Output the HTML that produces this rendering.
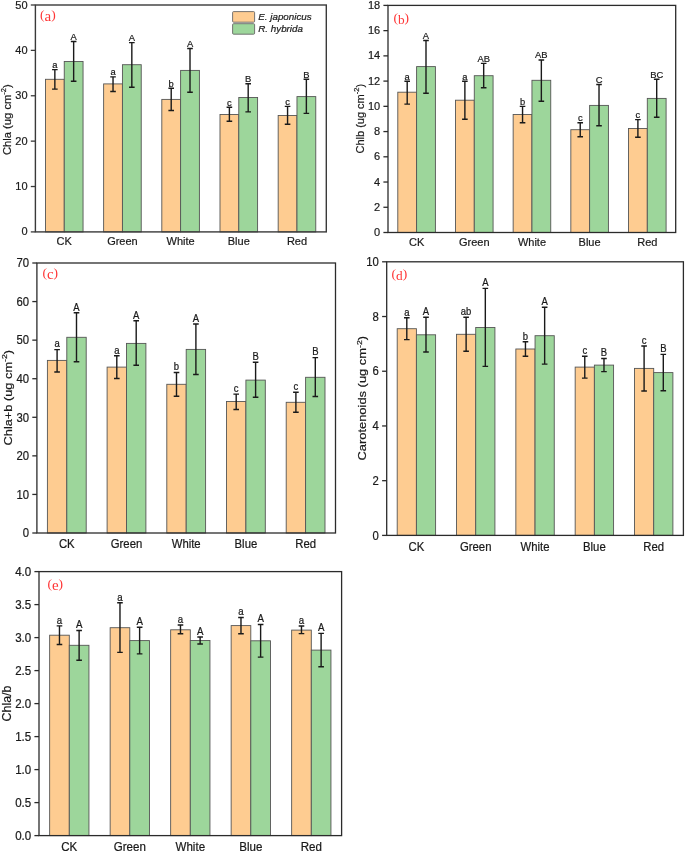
<!DOCTYPE html>
<html><head><meta charset="utf-8"><style>
html,body{margin:0;padding:0;background:#fff;}
svg{display:block;will-change:transform;}
text{font-family:"Liberation Sans",sans-serif;fill:#1a1a1a;stroke:#1a1a1a;stroke-width:0.2px;}
text.pl{font-family:"Liberation Serif",serif;fill:#FF3535;stroke:none;}
</style></head><body>
<svg width="685" height="853" viewBox="0 0 685 853">
<rect width="685" height="853" fill="#fff"/>
<rect x="45.45" y="79.3" width="18.8" height="152.6" fill="#FECC91" stroke="#555555" stroke-width="0.9"/>
<rect x="64.25" y="61.5" width="18.8" height="170.4" fill="#9DD69B" stroke="#555555" stroke-width="0.9"/>
<rect x="103.63" y="83.9" width="18.8" height="148" fill="#FECC91" stroke="#555555" stroke-width="0.9"/>
<rect x="122.43" y="64.7" width="18.8" height="167.2" fill="#9DD69B" stroke="#555555" stroke-width="0.9"/>
<rect x="161.81" y="99.4" width="18.8" height="132.5" fill="#FECC91" stroke="#555555" stroke-width="0.9"/>
<rect x="180.61" y="70.4" width="18.8" height="161.5" fill="#9DD69B" stroke="#555555" stroke-width="0.9"/>
<rect x="219.99" y="114.5" width="18.8" height="117.4" fill="#FECC91" stroke="#555555" stroke-width="0.9"/>
<rect x="238.79" y="97.5" width="18.8" height="134.4" fill="#9DD69B" stroke="#555555" stroke-width="0.9"/>
<rect x="278.17" y="115.5" width="18.8" height="116.4" fill="#FECC91" stroke="#555555" stroke-width="0.9"/>
<rect x="296.97" y="96.6" width="18.8" height="135.3" fill="#9DD69B" stroke="#555555" stroke-width="0.9"/>
<path d="M54.85 69.6V89.1M52.05 69.6H57.65M52.05 89.1H57.65" stroke="#1a1a1a" stroke-width="1.4" fill="none"/>
<text x="54.85" y="67.9" font-size="9.4" text-anchor="middle">a</text>
<path d="M73.65 41.5V81.3M70.85 41.5H76.45M70.85 81.3H76.45" stroke="#1a1a1a" stroke-width="1.4" fill="none"/>
<text x="73.65" y="39.8" font-size="9.4" text-anchor="middle">A</text>
<path d="M113.03 76.9V91.5M110.23 76.9H115.83M110.23 91.5H115.83" stroke="#1a1a1a" stroke-width="1.4" fill="none"/>
<text x="113.03" y="75.2" font-size="9.4" text-anchor="middle">a</text>
<path d="M131.83 42.6V87.2M129.03 42.6H134.63M129.03 87.2H134.63" stroke="#1a1a1a" stroke-width="1.4" fill="none"/>
<text x="131.83" y="40.9" font-size="9.4" text-anchor="middle">A</text>
<path d="M171.21 88.3V110.5M168.41 88.3H174.01M168.41 110.5H174.01" stroke="#1a1a1a" stroke-width="1.4" fill="none"/>
<text x="171.21" y="86.6" font-size="9.4" text-anchor="middle">b</text>
<path d="M190.01 48.5V92.3M187.21 48.5H192.81M187.21 92.3H192.81" stroke="#1a1a1a" stroke-width="1.4" fill="none"/>
<text x="190.01" y="46.8" font-size="9.4" text-anchor="middle">A</text>
<path d="M229.39 107.3V121.3M226.59 107.3H232.19M226.59 121.3H232.19" stroke="#1a1a1a" stroke-width="1.4" fill="none"/>
<text x="229.39" y="105.6" font-size="9.4" text-anchor="middle">c</text>
<path d="M248.19 83.7V111.9M245.39 83.7H250.99M245.39 111.9H250.99" stroke="#1a1a1a" stroke-width="1.4" fill="none"/>
<text x="248.19" y="82" font-size="9.4" text-anchor="middle">B</text>
<path d="M287.57 106.4V124.3M284.77 106.4H290.37M284.77 124.3H290.37" stroke="#1a1a1a" stroke-width="1.4" fill="none"/>
<text x="287.57" y="104.7" font-size="9.4" text-anchor="middle">c</text>
<path d="M306.37 79.3V113.4M303.57 79.3H309.17M303.57 113.4H309.17" stroke="#1a1a1a" stroke-width="1.4" fill="none"/>
<text x="306.37" y="77.6" font-size="9.4" text-anchor="middle">B</text>
<rect x="35.4" y="5" width="290.9" height="226.9" fill="none" stroke="#3a3a3a" stroke-width="1.4"/>
<path d="M30.8 231.9H35.4" stroke="#3a3a3a" stroke-width="1.3"/>
<text x="27.6" y="235.4" font-size="11" text-anchor="end">0</text>
<path d="M30.8 186.52H35.4" stroke="#3a3a3a" stroke-width="1.3"/>
<text x="27.6" y="190.02" font-size="11" text-anchor="end">10</text>
<path d="M30.8 141.14H35.4" stroke="#3a3a3a" stroke-width="1.3"/>
<text x="27.6" y="144.64" font-size="11" text-anchor="end">20</text>
<path d="M30.8 95.76H35.4" stroke="#3a3a3a" stroke-width="1.3"/>
<text x="27.6" y="99.26" font-size="11" text-anchor="end">30</text>
<path d="M30.8 50.38H35.4" stroke="#3a3a3a" stroke-width="1.3"/>
<text x="27.6" y="53.88" font-size="11" text-anchor="end">40</text>
<path d="M30.8 5H35.4" stroke="#3a3a3a" stroke-width="1.3"/>
<text x="27.6" y="8.5" font-size="11" text-anchor="end">50</text>
<text x="64.25" y="245" font-size="11" text-anchor="middle">CK</text>
<text x="122.43" y="245" font-size="11" text-anchor="middle">Green</text>
<text x="180.61" y="245" font-size="11" text-anchor="middle">White</text>
<text x="238.79" y="245" font-size="11" text-anchor="middle">Blue</text>
<text x="296.97" y="245" font-size="11" text-anchor="middle">Red</text>
<text transform="translate(10.6,119.6) scale(1,1) rotate(-90)" font-size="11.2" text-anchor="middle">Chla (ug cm<tspan font-size="7.62" dy="-4.7">-2</tspan><tspan dy="4.7">)</tspan></text>
<text x="40.1" y="18.6" font-size="13.5" class="pl">(<tspan font-size="15" dy="2">a</tspan><tspan dy="-2">)</tspan></text>
<rect x="232.6" y="11.6" width="22" height="10.6" rx="1" fill="#FECC91" stroke="#666" stroke-width="0.9"/>
<rect x="232.6" y="23.7" width="22" height="10.5" rx="1" fill="#9DD69B" stroke="#666" stroke-width="0.9"/>
<text x="258.3" y="20.3" font-size="9.8" font-style="italic">E. japonicus</text>
<text x="258.3" y="32" font-size="9.8" font-style="italic">R. hybrida</text>
<rect x="397.8" y="92.2" width="18.8" height="140.3" fill="#FECC91" stroke="#555555" stroke-width="0.9"/>
<rect x="416.6" y="66.6" width="18.8" height="165.9" fill="#9DD69B" stroke="#555555" stroke-width="0.9"/>
<rect x="455.48" y="100.2" width="18.8" height="132.3" fill="#FECC91" stroke="#555555" stroke-width="0.9"/>
<rect x="474.28" y="75.7" width="18.8" height="156.8" fill="#9DD69B" stroke="#555555" stroke-width="0.9"/>
<rect x="513.15" y="114.5" width="18.8" height="118" fill="#FECC91" stroke="#555555" stroke-width="0.9"/>
<rect x="531.95" y="80.3" width="18.8" height="152.2" fill="#9DD69B" stroke="#555555" stroke-width="0.9"/>
<rect x="570.83" y="129.7" width="18.8" height="102.8" fill="#FECC91" stroke="#555555" stroke-width="0.9"/>
<rect x="589.62" y="105.4" width="18.8" height="127.1" fill="#9DD69B" stroke="#555555" stroke-width="0.9"/>
<rect x="628.5" y="128.5" width="18.8" height="104" fill="#FECC91" stroke="#555555" stroke-width="0.9"/>
<rect x="647.3" y="98.4" width="18.8" height="134.1" fill="#9DD69B" stroke="#555555" stroke-width="0.9"/>
<path d="M407.2 81.3V104.1M404.4 81.3H410M404.4 104.1H410" stroke="#1a1a1a" stroke-width="1.4" fill="none"/>
<text x="407.2" y="79.6" font-size="9.4" text-anchor="middle">a</text>
<path d="M426 40.5V93.2M423.2 40.5H428.8M423.2 93.2H428.8" stroke="#1a1a1a" stroke-width="1.4" fill="none"/>
<text x="426" y="38.8" font-size="9.4" text-anchor="middle">A</text>
<path d="M464.88 81.3V119.3M462.08 81.3H467.68M462.08 119.3H467.68" stroke="#1a1a1a" stroke-width="1.4" fill="none"/>
<text x="464.88" y="79.6" font-size="9.4" text-anchor="middle">a</text>
<path d="M483.68 63.4V87.8M480.88 63.4H486.48M480.88 87.8H486.48" stroke="#1a1a1a" stroke-width="1.4" fill="none"/>
<text x="483.68" y="61.7" font-size="9.4" text-anchor="middle">AB</text>
<path d="M522.55 106.4V122.7M519.75 106.4H525.35M519.75 122.7H525.35" stroke="#1a1a1a" stroke-width="1.4" fill="none"/>
<text x="522.55" y="104.7" font-size="9.4" text-anchor="middle">b</text>
<path d="M541.35 60V101.3M538.55 60H544.15M538.55 101.3H544.15" stroke="#1a1a1a" stroke-width="1.4" fill="none"/>
<text x="541.35" y="58.3" font-size="9.4" text-anchor="middle">AB</text>
<path d="M580.23 122.7V136.7M577.43 122.7H583.02M577.43 136.7H583.02" stroke="#1a1a1a" stroke-width="1.4" fill="none"/>
<text x="580.23" y="121" font-size="9.4" text-anchor="middle">c</text>
<path d="M599.02 84.5V125.7M596.23 84.5H601.82M596.23 125.7H601.82" stroke="#1a1a1a" stroke-width="1.4" fill="none"/>
<text x="599.02" y="82.8" font-size="9.4" text-anchor="middle">C</text>
<path d="M637.9 119.6V137.2M635.1 119.6H640.7M635.1 137.2H640.7" stroke="#1a1a1a" stroke-width="1.4" fill="none"/>
<text x="637.9" y="117.9" font-size="9.4" text-anchor="middle">c</text>
<path d="M656.7 79.3V117.3M653.9 79.3H659.5M653.9 117.3H659.5" stroke="#1a1a1a" stroke-width="1.4" fill="none"/>
<text x="656.7" y="77.6" font-size="9.4" text-anchor="middle">BC</text>
<rect x="388" y="5.4" width="287.7" height="227.1" fill="none" stroke="#2b2b2b" stroke-width="1.3"/>
<path d="M383.4 232.5H388" stroke="#2b2b2b" stroke-width="1.3"/>
<text x="380.2" y="236" font-size="11" text-anchor="end">0</text>
<path d="M383.4 207.27H388" stroke="#2b2b2b" stroke-width="1.3"/>
<text x="380.2" y="210.77" font-size="11" text-anchor="end">2</text>
<path d="M383.4 182.03H388" stroke="#2b2b2b" stroke-width="1.3"/>
<text x="380.2" y="185.53" font-size="11" text-anchor="end">4</text>
<path d="M383.4 156.8H388" stroke="#2b2b2b" stroke-width="1.3"/>
<text x="380.2" y="160.3" font-size="11" text-anchor="end">6</text>
<path d="M383.4 131.57H388" stroke="#2b2b2b" stroke-width="1.3"/>
<text x="380.2" y="135.07" font-size="11" text-anchor="end">8</text>
<path d="M383.4 106.33H388" stroke="#2b2b2b" stroke-width="1.3"/>
<text x="380.2" y="109.83" font-size="11" text-anchor="end">10</text>
<path d="M383.4 81.1H388" stroke="#2b2b2b" stroke-width="1.3"/>
<text x="380.2" y="84.6" font-size="11" text-anchor="end">12</text>
<path d="M383.4 55.87H388" stroke="#2b2b2b" stroke-width="1.3"/>
<text x="380.2" y="59.37" font-size="11" text-anchor="end">14</text>
<path d="M383.4 30.63H388" stroke="#2b2b2b" stroke-width="1.3"/>
<text x="380.2" y="34.13" font-size="11" text-anchor="end">16</text>
<path d="M383.4 5.4H388" stroke="#2b2b2b" stroke-width="1.3"/>
<text x="380.2" y="8.9" font-size="11" text-anchor="end">18</text>
<text x="416.6" y="245.9" font-size="11" text-anchor="middle">CK</text>
<text x="474.28" y="245.9" font-size="11" text-anchor="middle">Green</text>
<text x="531.95" y="245.9" font-size="11" text-anchor="middle">White</text>
<text x="589.62" y="245.9" font-size="11" text-anchor="middle">Blue</text>
<text x="647.3" y="245.9" font-size="11" text-anchor="middle">Red</text>
<text transform="translate(364,118.7) scale(1,1) rotate(-90)" font-size="11" text-anchor="middle">Chlb (ug cm<tspan font-size="7.48" dy="-4.62">-2</tspan><tspan dy="4.62">)</tspan></text>
<text x="393.4" y="21.8" font-size="13.5" class="pl">(<tspan font-size="13.3" dy="2">b</tspan><tspan dy="-2">)</tspan></text>
<rect x="47.4" y="360.4" width="19.4" height="172.6" fill="#FECC91" stroke="#555555" stroke-width="0.9"/>
<rect x="66.8" y="337.3" width="19.4" height="195.7" fill="#9DD69B" stroke="#555555" stroke-width="0.9"/>
<rect x="107.1" y="367.1" width="19.4" height="165.9" fill="#FECC91" stroke="#555555" stroke-width="0.9"/>
<rect x="126.5" y="343.4" width="19.4" height="189.6" fill="#9DD69B" stroke="#555555" stroke-width="0.9"/>
<rect x="166.8" y="384.3" width="19.4" height="148.7" fill="#FECC91" stroke="#555555" stroke-width="0.9"/>
<rect x="186.2" y="349.4" width="19.4" height="183.6" fill="#9DD69B" stroke="#555555" stroke-width="0.9"/>
<rect x="226.5" y="401.5" width="19.4" height="131.5" fill="#FECC91" stroke="#555555" stroke-width="0.9"/>
<rect x="245.9" y="380.1" width="19.4" height="152.9" fill="#9DD69B" stroke="#555555" stroke-width="0.9"/>
<rect x="286.2" y="402.3" width="19.4" height="130.7" fill="#FECC91" stroke="#555555" stroke-width="0.9"/>
<rect x="305.6" y="377.3" width="19.4" height="155.7" fill="#9DD69B" stroke="#555555" stroke-width="0.9"/>
<path d="M57.1 349.6V372M54.3 349.6H59.9M54.3 372H59.9" stroke="#1a1a1a" stroke-width="1.4" fill="none"/>
<text transform="translate(57.1,347.4) scale(1.03,1.19)" font-size="9.2" text-anchor="middle">a</text>
<path d="M76.5 312.8V361.8M73.7 312.8H79.3M73.7 361.8H79.3" stroke="#1a1a1a" stroke-width="1.4" fill="none"/>
<text transform="translate(76.5,310.6) scale(1.03,1.19)" font-size="9.2" text-anchor="middle">A</text>
<path d="M116.8 355.7V378.5M114 355.7H119.6M114 378.5H119.6" stroke="#1a1a1a" stroke-width="1.4" fill="none"/>
<text transform="translate(116.8,353.5) scale(1.03,1.19)" font-size="9.2" text-anchor="middle">a</text>
<path d="M136.2 320.7V365.3M133.4 320.7H139M133.4 365.3H139" stroke="#1a1a1a" stroke-width="1.4" fill="none"/>
<text transform="translate(136.2,318.5) scale(1.03,1.19)" font-size="9.2" text-anchor="middle">A</text>
<path d="M176.5 372.5V396.2M173.7 372.5H179.3M173.7 396.2H179.3" stroke="#1a1a1a" stroke-width="1.4" fill="none"/>
<text transform="translate(176.5,370.3) scale(1.03,1.19)" font-size="9.2" text-anchor="middle">b</text>
<path d="M195.9 324V374.5M193.1 324H198.7M193.1 374.5H198.7" stroke="#1a1a1a" stroke-width="1.4" fill="none"/>
<text transform="translate(195.9,321.8) scale(1.03,1.19)" font-size="9.2" text-anchor="middle">A</text>
<path d="M236.2 394.1V409.5M233.4 394.1H239M233.4 409.5H239" stroke="#1a1a1a" stroke-width="1.4" fill="none"/>
<text transform="translate(236.2,391.9) scale(1.03,1.19)" font-size="9.2" text-anchor="middle">c</text>
<path d="M255.6 362.2V397.2M252.8 362.2H258.4M252.8 397.2H258.4" stroke="#1a1a1a" stroke-width="1.4" fill="none"/>
<text transform="translate(255.6,360) scale(1.03,1.19)" font-size="9.2" text-anchor="middle">B</text>
<path d="M295.9 392.3V412.3M293.1 392.3H298.7M293.1 412.3H298.7" stroke="#1a1a1a" stroke-width="1.4" fill="none"/>
<text transform="translate(295.9,390.1) scale(1.03,1.19)" font-size="9.2" text-anchor="middle">c</text>
<path d="M315.3 357.6V396.5M312.5 357.6H318.1M312.5 396.5H318.1" stroke="#1a1a1a" stroke-width="1.4" fill="none"/>
<text transform="translate(315.3,355.4) scale(1.03,1.19)" font-size="9.2" text-anchor="middle">B</text>
<rect x="36.9" y="263" width="298.6" height="270" fill="none" stroke="#2b2b2b" stroke-width="1.3"/>
<path d="M32.3 533H36.9" stroke="#2b2b2b" stroke-width="1.3"/>
<text transform="translate(29.1,537.24) scale(1.03,1.19)" font-size="11" text-anchor="end">0</text>
<path d="M32.3 494.43H36.9" stroke="#2b2b2b" stroke-width="1.3"/>
<text transform="translate(29.1,498.67) scale(1.03,1.19)" font-size="11" text-anchor="end">10</text>
<path d="M32.3 455.86H36.9" stroke="#2b2b2b" stroke-width="1.3"/>
<text transform="translate(29.1,460.1) scale(1.03,1.19)" font-size="11" text-anchor="end">20</text>
<path d="M32.3 417.29H36.9" stroke="#2b2b2b" stroke-width="1.3"/>
<text transform="translate(29.1,421.53) scale(1.03,1.19)" font-size="11" text-anchor="end">30</text>
<path d="M32.3 378.71H36.9" stroke="#2b2b2b" stroke-width="1.3"/>
<text transform="translate(29.1,382.96) scale(1.03,1.19)" font-size="11" text-anchor="end">40</text>
<path d="M32.3 340.14H36.9" stroke="#2b2b2b" stroke-width="1.3"/>
<text transform="translate(29.1,344.38) scale(1.03,1.19)" font-size="11" text-anchor="end">50</text>
<path d="M32.3 301.57H36.9" stroke="#2b2b2b" stroke-width="1.3"/>
<text transform="translate(29.1,305.81) scale(1.03,1.19)" font-size="11" text-anchor="end">60</text>
<path d="M32.3 263H36.9" stroke="#2b2b2b" stroke-width="1.3"/>
<text transform="translate(29.1,267.24) scale(1.03,1.19)" font-size="11" text-anchor="end">70</text>
<text transform="translate(66.8,547.6) scale(1.03,1.19)" font-size="11" text-anchor="middle">CK</text>
<text transform="translate(126.5,547.6) scale(1.03,1.19)" font-size="11" text-anchor="middle">Green</text>
<text transform="translate(186.2,547.6) scale(1.03,1.19)" font-size="11" text-anchor="middle">White</text>
<text transform="translate(245.9,547.6) scale(1.03,1.19)" font-size="11" text-anchor="middle">Blue</text>
<text transform="translate(305.6,547.6) scale(1.03,1.19)" font-size="11" text-anchor="middle">Red</text>
<text transform="translate(12,397.7) scale(1.03,1.19) rotate(-90)" font-size="10.75" text-anchor="middle">Chla+b (ug cm<tspan font-size="7.31" dy="-4.51">-2</tspan><tspan dy="4.51">)</tspan></text>
<text x="42.4" y="276.9" font-size="13.5" class="pl">(<tspan font-size="15" dy="2">c</tspan><tspan dy="-2">)</tspan></text>
<rect x="397.2" y="328.7" width="19.2" height="206.7" fill="#FECC91" stroke="#555555" stroke-width="0.9"/>
<rect x="416.4" y="334.8" width="19.2" height="200.6" fill="#9DD69B" stroke="#555555" stroke-width="0.9"/>
<rect x="456.52" y="334.3" width="19.2" height="201.1" fill="#FECC91" stroke="#555555" stroke-width="0.9"/>
<rect x="475.72" y="327.5" width="19.2" height="207.9" fill="#9DD69B" stroke="#555555" stroke-width="0.9"/>
<rect x="515.85" y="349" width="19.2" height="186.4" fill="#FECC91" stroke="#555555" stroke-width="0.9"/>
<rect x="535.05" y="335.7" width="19.2" height="199.7" fill="#9DD69B" stroke="#555555" stroke-width="0.9"/>
<rect x="575.17" y="367.1" width="19.2" height="168.3" fill="#FECC91" stroke="#555555" stroke-width="0.9"/>
<rect x="594.38" y="365.1" width="19.2" height="170.3" fill="#9DD69B" stroke="#555555" stroke-width="0.9"/>
<rect x="634.5" y="368.4" width="19.2" height="167" fill="#FECC91" stroke="#555555" stroke-width="0.9"/>
<rect x="653.7" y="372.6" width="19.2" height="162.8" fill="#9DD69B" stroke="#555555" stroke-width="0.9"/>
<path d="M406.8 317.7V339.6M404 317.7H409.6M404 339.6H409.6" stroke="#1a1a1a" stroke-width="1.4" fill="none"/>
<text transform="translate(406.8,315.5) scale(1.03,1.19)" font-size="9.2" text-anchor="middle">a</text>
<path d="M426 317.3V352M423.2 317.3H428.8M423.2 352H428.8" stroke="#1a1a1a" stroke-width="1.4" fill="none"/>
<text transform="translate(426,315.1) scale(1.03,1.19)" font-size="9.2" text-anchor="middle">A</text>
<path d="M466.12 317.3V351.3M463.32 317.3H468.92M463.32 351.3H468.92" stroke="#1a1a1a" stroke-width="1.4" fill="none"/>
<text transform="translate(466.12,315.1) scale(1.03,1.19)" font-size="9.2" text-anchor="middle">ab</text>
<path d="M485.32 288.4V366.4M482.52 288.4H488.12M482.52 366.4H488.12" stroke="#1a1a1a" stroke-width="1.4" fill="none"/>
<text transform="translate(485.32,286.2) scale(1.03,1.19)" font-size="9.2" text-anchor="middle">A</text>
<path d="M525.45 341.7V356.2M522.65 341.7H528.25M522.65 356.2H528.25" stroke="#1a1a1a" stroke-width="1.4" fill="none"/>
<text transform="translate(525.45,339.5) scale(1.03,1.19)" font-size="9.2" text-anchor="middle">b</text>
<path d="M544.65 307.2V364.1M541.85 307.2H547.45M541.85 364.1H547.45" stroke="#1a1a1a" stroke-width="1.4" fill="none"/>
<text transform="translate(544.65,305) scale(1.03,1.19)" font-size="9.2" text-anchor="middle">A</text>
<path d="M584.77 356.2V378.1M581.98 356.2H587.57M581.98 378.1H587.57" stroke="#1a1a1a" stroke-width="1.4" fill="none"/>
<text transform="translate(584.77,354) scale(1.03,1.19)" font-size="9.2" text-anchor="middle">c</text>
<path d="M603.98 358.5V371.6M601.18 358.5H606.77M601.18 371.6H606.77" stroke="#1a1a1a" stroke-width="1.4" fill="none"/>
<text transform="translate(603.98,356.3) scale(1.03,1.19)" font-size="9.2" text-anchor="middle">B</text>
<path d="M644.1 346V391M641.3 346H646.9M641.3 391H646.9" stroke="#1a1a1a" stroke-width="1.4" fill="none"/>
<text transform="translate(644.1,343.8) scale(1.03,1.19)" font-size="9.2" text-anchor="middle">c</text>
<path d="M663.3 354.4V390.7M660.5 354.4H666.1M660.5 390.7H666.1" stroke="#1a1a1a" stroke-width="1.4" fill="none"/>
<text transform="translate(663.3,352.2) scale(1.03,1.19)" font-size="9.2" text-anchor="middle">B</text>
<rect x="386.7" y="261.8" width="296.7" height="273.6" fill="none" stroke="#2b2b2b" stroke-width="1.3"/>
<path d="M382.1 535.4H386.7" stroke="#2b2b2b" stroke-width="1.3"/>
<text transform="translate(378.9,539.64) scale(1.03,1.19)" font-size="11" text-anchor="end">0</text>
<path d="M382.1 480.68H386.7" stroke="#2b2b2b" stroke-width="1.3"/>
<text transform="translate(378.9,484.92) scale(1.03,1.19)" font-size="11" text-anchor="end">2</text>
<path d="M382.1 425.96H386.7" stroke="#2b2b2b" stroke-width="1.3"/>
<text transform="translate(378.9,430.2) scale(1.03,1.19)" font-size="11" text-anchor="end">4</text>
<path d="M382.1 371.24H386.7" stroke="#2b2b2b" stroke-width="1.3"/>
<text transform="translate(378.9,375.48) scale(1.03,1.19)" font-size="11" text-anchor="end">6</text>
<path d="M382.1 316.52H386.7" stroke="#2b2b2b" stroke-width="1.3"/>
<text transform="translate(378.9,320.76) scale(1.03,1.19)" font-size="11" text-anchor="end">8</text>
<path d="M382.1 261.8H386.7" stroke="#2b2b2b" stroke-width="1.3"/>
<text transform="translate(378.9,266.04) scale(1.03,1.19)" font-size="11" text-anchor="end">10</text>
<text transform="translate(416.4,551) scale(1.03,1.19)" font-size="11" text-anchor="middle">CK</text>
<text transform="translate(475.72,551) scale(1.03,1.19)" font-size="11" text-anchor="middle">Green</text>
<text transform="translate(535.05,551) scale(1.03,1.19)" font-size="11" text-anchor="middle">White</text>
<text transform="translate(594.38,551) scale(1.03,1.19)" font-size="11" text-anchor="middle">Blue</text>
<text transform="translate(653.7,551) scale(1.03,1.19)" font-size="11" text-anchor="middle">Red</text>
<text transform="translate(366.2,398.2) scale(1.03,1.19) rotate(-90)" font-size="10.85" text-anchor="middle">Carotenoids (ug cm<tspan font-size="7.38" dy="-4.56">-2</tspan><tspan dy="4.56">)</tspan></text>
<text x="391.5" y="277.8" font-size="13.5" class="pl">(<tspan font-size="13.3" dy="2">d</tspan><tspan dy="-2">)</tspan></text>
<rect x="49.65" y="635.2" width="19.65" height="200.4" fill="#FECC91" stroke="#555555" stroke-width="0.9"/>
<rect x="69.3" y="645.3" width="19.65" height="190.3" fill="#9DD69B" stroke="#555555" stroke-width="0.9"/>
<rect x="110.15" y="627.7" width="19.65" height="207.9" fill="#FECC91" stroke="#555555" stroke-width="0.9"/>
<rect x="129.8" y="640.6" width="19.65" height="195" fill="#9DD69B" stroke="#555555" stroke-width="0.9"/>
<rect x="170.65" y="629.8" width="19.65" height="205.8" fill="#FECC91" stroke="#555555" stroke-width="0.9"/>
<rect x="190.3" y="640.5" width="19.65" height="195.1" fill="#9DD69B" stroke="#555555" stroke-width="0.9"/>
<rect x="231.15" y="625.6" width="19.65" height="210" fill="#FECC91" stroke="#555555" stroke-width="0.9"/>
<rect x="250.8" y="640.8" width="19.65" height="194.8" fill="#9DD69B" stroke="#555555" stroke-width="0.9"/>
<rect x="291.65" y="630.1" width="19.65" height="205.5" fill="#FECC91" stroke="#555555" stroke-width="0.9"/>
<rect x="311.3" y="650.1" width="19.65" height="185.5" fill="#9DD69B" stroke="#555555" stroke-width="0.9"/>
<path d="M59.47 625.9V644.5M56.67 625.9H62.27M56.67 644.5H62.27" stroke="#1a1a1a" stroke-width="1.4" fill="none"/>
<text transform="translate(59.47,623.7) scale(1.05,1.19)" font-size="9.2" text-anchor="middle">a</text>
<path d="M79.12 630.5V660.2M76.33 630.5H81.92M76.33 660.2H81.92" stroke="#1a1a1a" stroke-width="1.4" fill="none"/>
<text transform="translate(79.12,628.3) scale(1.05,1.19)" font-size="9.2" text-anchor="middle">A</text>
<path d="M119.98 602.8V652.4M117.18 602.8H122.78M117.18 652.4H122.78" stroke="#1a1a1a" stroke-width="1.4" fill="none"/>
<text transform="translate(119.98,600.6) scale(1.05,1.19)" font-size="9.2" text-anchor="middle">a</text>
<path d="M139.62 627.3V653.9M136.82 627.3H142.43M136.82 653.9H142.43" stroke="#1a1a1a" stroke-width="1.4" fill="none"/>
<text transform="translate(139.62,625.1) scale(1.05,1.19)" font-size="9.2" text-anchor="middle">A</text>
<path d="M180.48 625V633.8M177.68 625H183.28M177.68 633.8H183.28" stroke="#1a1a1a" stroke-width="1.4" fill="none"/>
<text transform="translate(180.48,622.8) scale(1.05,1.19)" font-size="9.2" text-anchor="middle">a</text>
<path d="M200.12 637V644M197.32 637H202.93M197.32 644H202.93" stroke="#1a1a1a" stroke-width="1.4" fill="none"/>
<text transform="translate(200.12,634.8) scale(1.05,1.19)" font-size="9.2" text-anchor="middle">A</text>
<path d="M240.98 617.5V633.8M238.18 617.5H243.78M238.18 633.8H243.78" stroke="#1a1a1a" stroke-width="1.4" fill="none"/>
<text transform="translate(240.98,615.3) scale(1.05,1.19)" font-size="9.2" text-anchor="middle">a</text>
<path d="M260.62 624.5V657.1M257.82 624.5H263.43M257.82 657.1H263.43" stroke="#1a1a1a" stroke-width="1.4" fill="none"/>
<text transform="translate(260.62,622.3) scale(1.05,1.19)" font-size="9.2" text-anchor="middle">A</text>
<path d="M301.48 626V633.6M298.68 626H304.28M298.68 633.6H304.28" stroke="#1a1a1a" stroke-width="1.4" fill="none"/>
<text transform="translate(301.48,623.8) scale(1.05,1.19)" font-size="9.2" text-anchor="middle">a</text>
<path d="M321.12 633.4V666.8M318.32 633.4H323.93M318.32 666.8H323.93" stroke="#1a1a1a" stroke-width="1.4" fill="none"/>
<text transform="translate(321.12,631.2) scale(1.05,1.19)" font-size="9.2" text-anchor="middle">A</text>
<rect x="39" y="571.6" width="302.6" height="264" fill="none" stroke="#2b2b2b" stroke-width="1.3"/>
<path d="M34.4 835.6H39" stroke="#2b2b2b" stroke-width="1.3"/>
<text transform="translate(31.2,839.84) scale(1.05,1.19)" font-size="11" text-anchor="end">0.0</text>
<path d="M34.4 802.6H39" stroke="#2b2b2b" stroke-width="1.3"/>
<text transform="translate(31.2,806.84) scale(1.05,1.19)" font-size="11" text-anchor="end">0.5</text>
<path d="M34.4 769.6H39" stroke="#2b2b2b" stroke-width="1.3"/>
<text transform="translate(31.2,773.84) scale(1.05,1.19)" font-size="11" text-anchor="end">1.0</text>
<path d="M34.4 736.6H39" stroke="#2b2b2b" stroke-width="1.3"/>
<text transform="translate(31.2,740.84) scale(1.05,1.19)" font-size="11" text-anchor="end">1.5</text>
<path d="M34.4 703.6H39" stroke="#2b2b2b" stroke-width="1.3"/>
<text transform="translate(31.2,707.84) scale(1.05,1.19)" font-size="11" text-anchor="end">2.0</text>
<path d="M34.4 670.6H39" stroke="#2b2b2b" stroke-width="1.3"/>
<text transform="translate(31.2,674.84) scale(1.05,1.19)" font-size="11" text-anchor="end">2.5</text>
<path d="M34.4 637.6H39" stroke="#2b2b2b" stroke-width="1.3"/>
<text transform="translate(31.2,641.84) scale(1.05,1.19)" font-size="11" text-anchor="end">3.0</text>
<path d="M34.4 604.6H39" stroke="#2b2b2b" stroke-width="1.3"/>
<text transform="translate(31.2,608.84) scale(1.05,1.19)" font-size="11" text-anchor="end">3.5</text>
<path d="M34.4 571.6H39" stroke="#2b2b2b" stroke-width="1.3"/>
<text transform="translate(31.2,575.84) scale(1.05,1.19)" font-size="11" text-anchor="end">4.0</text>
<text transform="translate(69.3,850.8) scale(1.05,1.19)" font-size="11" text-anchor="middle">CK</text>
<text transform="translate(129.8,850.8) scale(1.05,1.19)" font-size="11" text-anchor="middle">Green</text>
<text transform="translate(190.3,850.8) scale(1.05,1.19)" font-size="11" text-anchor="middle">White</text>
<text transform="translate(250.8,850.8) scale(1.05,1.19)" font-size="11" text-anchor="middle">Blue</text>
<text transform="translate(311.3,850.8) scale(1.05,1.19)" font-size="11" text-anchor="middle">Red</text>
<text transform="translate(10.6,703.5) scale(1,1) rotate(-90)" font-size="12.4" text-anchor="middle">Chla/b</text>
<text x="47.4" y="587.8" font-size="13.5" class="pl">(<tspan font-size="15" dy="2">e</tspan><tspan dy="-2">)</tspan></text>
</svg>
</body></html>
